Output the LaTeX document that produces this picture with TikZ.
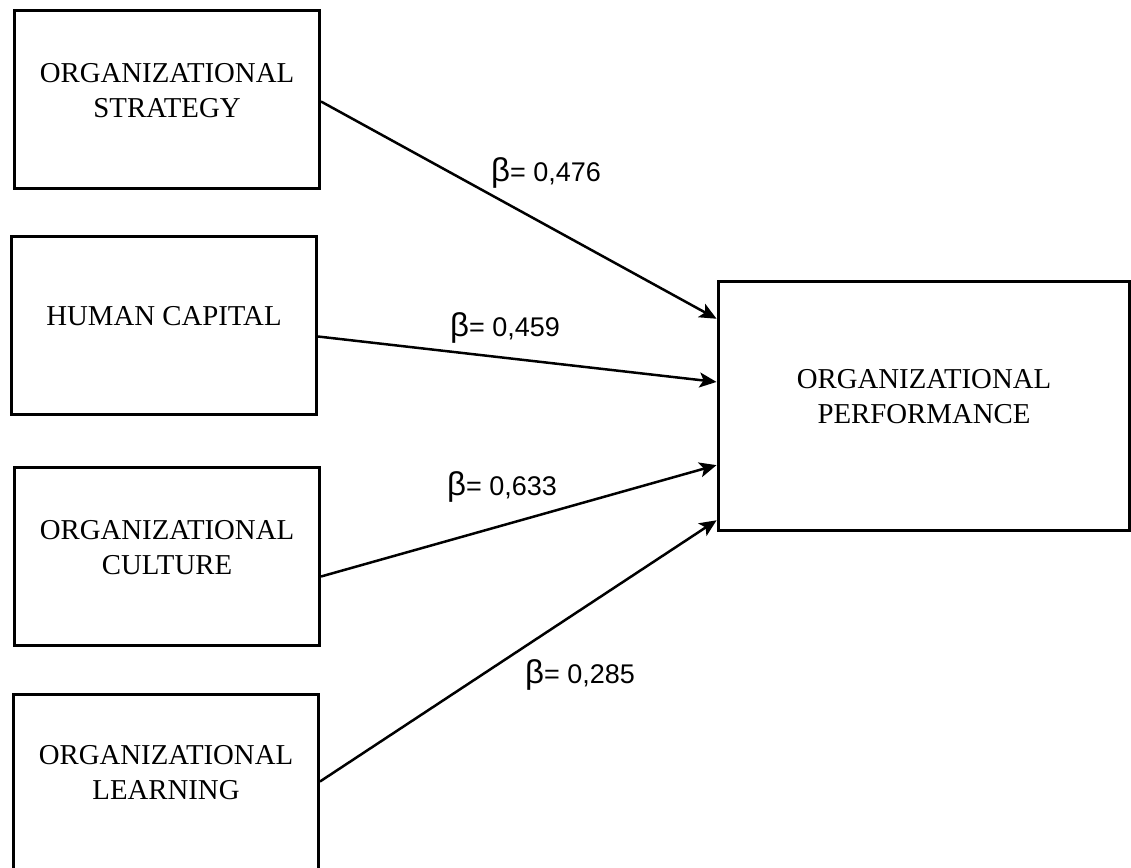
\documentclass[tikz,border=0pt]{standalone}
\usepackage{fontspec}
\setmainfont{Liberation Serif}
\newfontfamily\coeffont{Liberation Sans}
\usetikzlibrary{arrows.meta}
\newcommand{\bcoef}[1]{{\fontsize{33}{33}\selectfont β}= #1}
\begin{document}
\begin{tikzpicture}[x=1pt,y=-1pt,
  varbox/.style={draw, line width=3pt, minimum width=305pt, minimum height=178pt,
                 inner sep=0pt, anchor=north west},
  vartext/.style={font=\fontsize{28.8}{35}\selectfont, align=center, inner sep=0pt},
  coef/.style={font=\coeffont\fontsize{27}{32}\selectfont, inner sep=0pt},
  link/.style={line width=2.5pt, -{Stealth[length=17pt,width=15pt,inset=4pt]}, shorten >=0.5pt}
]
\useasboundingbox (0,0) rectangle (1131,867);
\fill[white] (0,0) rectangle (1131,867);
\clip (0,0) rectangle (1131,867);

% predictor boxes
\node[varbox] (strat) at (13,9) {};
\node[varbox] (human) at (10,235) {};
\node[varbox] (cult)  at (13,466) {};
\node[varbox] (learn) at (12,693) {};
% outcome box
\node[varbox, minimum width=411pt, minimum height=249pt] (perf) at (717,280) {};

% box captions
\node[vartext] (stratT) at ([yshift=9pt]strat.center) {ORGANIZATIONAL\\STRATEGY};
\node[vartext] (humanT) at ([yshift=9pt]human.center) {HUMAN CAPITAL};
\node[vartext] (cultT)  at ([yshift=9pt]cult.center)  {ORGANIZATIONAL\\CULTURE};
\node[vartext] (learnT) at ([yshift=11pt]learn.center) {ORGANIZATIONAL\\LEARNING};
\node[vartext] (perfT)  at ([yshift=9pt]perf.center)  {ORGANIZATIONAL\\PERFORMANCE};

% paths
\draw[link] ([yshift=-2pt]strat.east)  -- ([yshift=87pt]perf.west);
\draw[link] ([yshift=-11pt]human.east) -- ([yshift=24pt]perf.west);
\draw[link] ([yshift=-20pt]cult.east)  -- ([yshift=-59pt]perf.west);
\draw[link] ([yshift=2pt]learn.east)   -- ([yshift=-114pt]perf.west);

% path coefficients
\node[coef] (b1) at (546,173) {\bcoef{0,476}};
\node[coef] (b2) at (505,328) {\bcoef{0,459}};
\node[coef] (b3) at (502,487) {\bcoef{0,633}};
\node[coef] (b4) at (580,675) {\bcoef{0,285}};
\end{tikzpicture}
\end{document}
